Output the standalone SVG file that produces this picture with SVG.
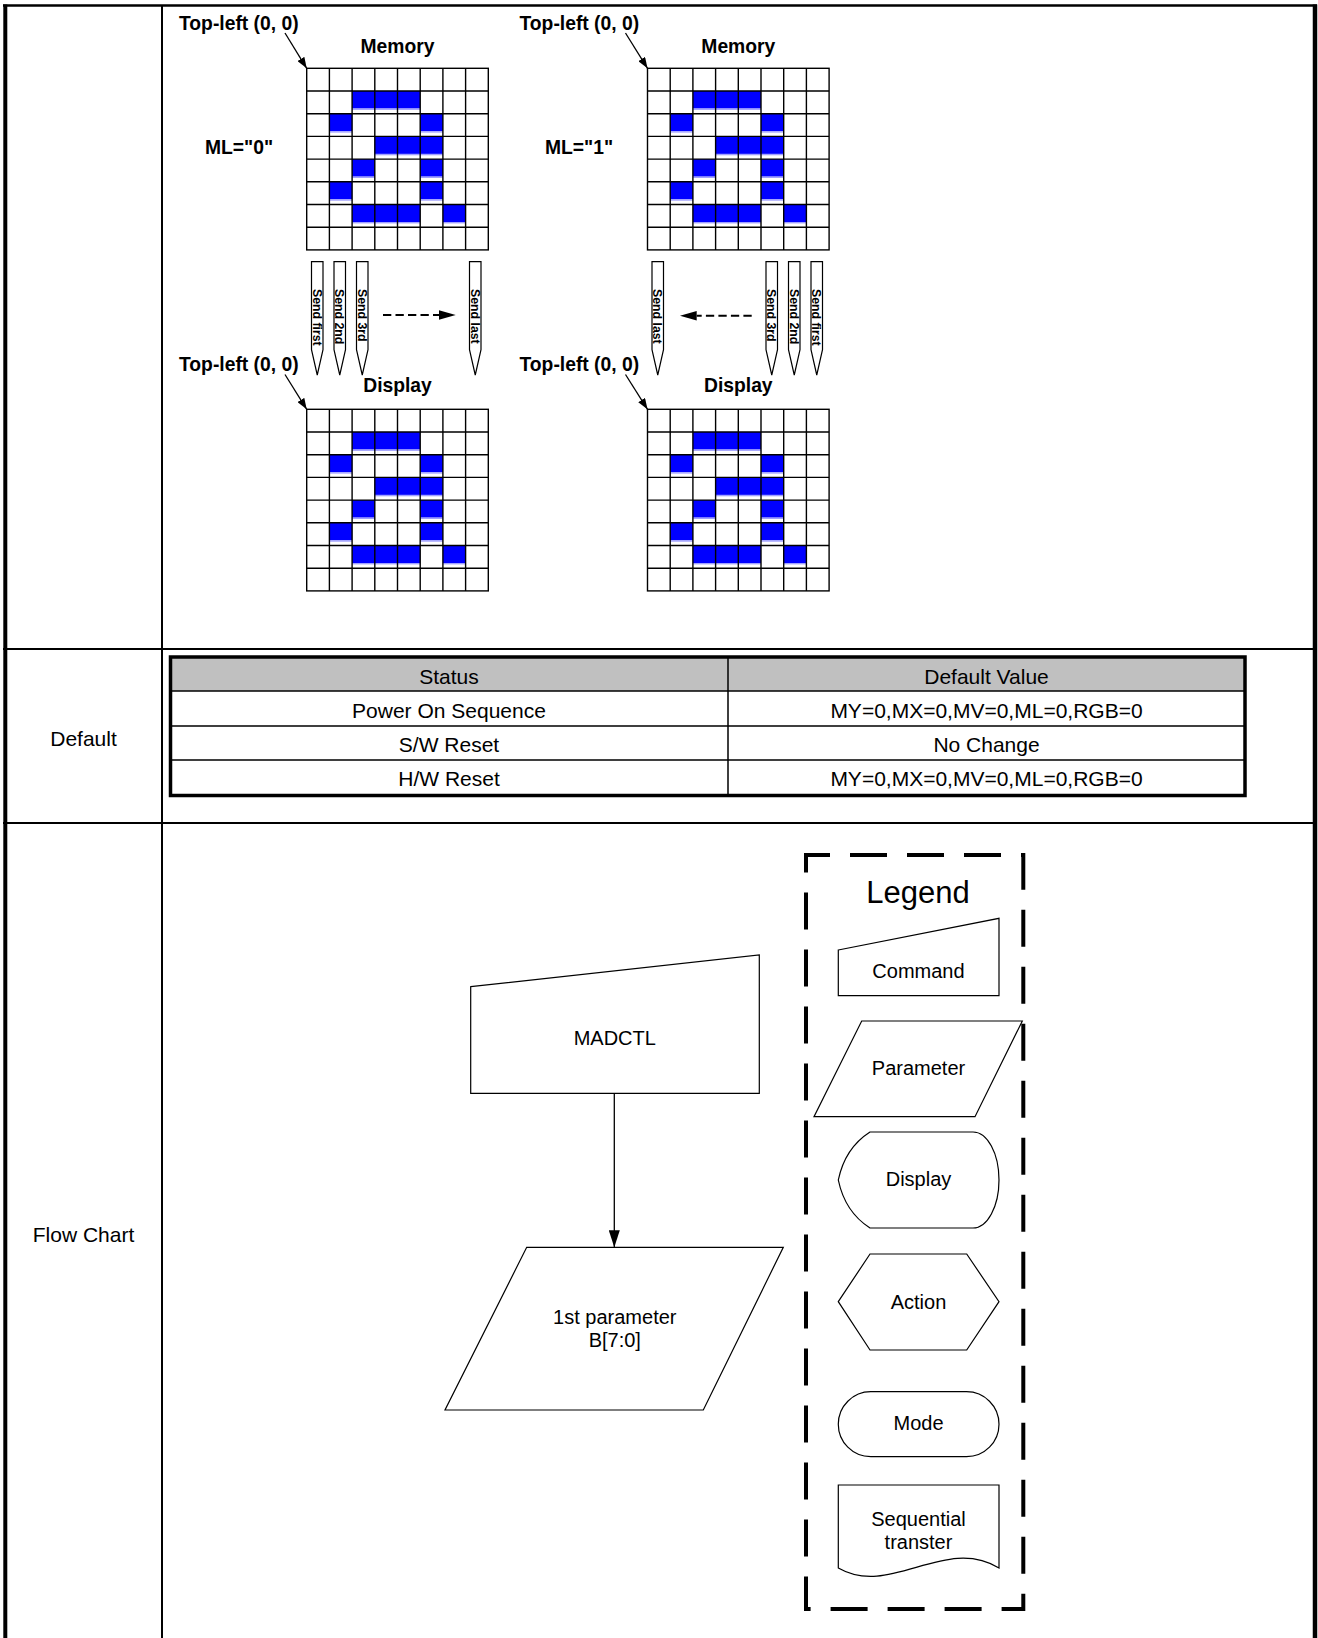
<svg xmlns="http://www.w3.org/2000/svg" width="1318" height="1638" viewBox="0 0 1318 1638">
<style>
text{font-family:"Liberation Sans",Arial,Helvetica,sans-serif;fill:#000}
.b{font-weight:bold;font-size:19.3px}
.bm{font-weight:bold;font-size:19.3px;text-anchor:middle}
.t{font-size:21px;text-anchor:middle}
.l{font-size:20px;text-anchor:middle}
.p{font-weight:bold;font-size:12.3px}
.shape{fill:#fff;stroke:#000;stroke-width:1.2}
.gl{fill:none;stroke:#000;stroke-width:1.4}
.blue{fill:#0000FF}
.lb{fill:#a0a0ff}
.frame{fill:none;stroke:#000}
.thin{fill:none;stroke:#000;stroke-width:1.3}
</style>
<defs>
<marker id="ah" viewBox="0 0 10 10" refX="10" refY="5" markerWidth="11" markerHeight="8" orient="auto" markerUnits="userSpaceOnUse" preserveAspectRatio="none"><path d="M0 0L10 5L0 10Z" fill="#000"/></marker>
<marker id="ah2" viewBox="0 0 10 10" refX="10" refY="5" markerWidth="17" markerHeight="11" orient="auto" markerUnits="userSpaceOnUse" preserveAspectRatio="none"><path d="M0 0L10 5L0 10Z" fill="#000"/></marker>
<g id="grid">
<rect class="blue" x="45.4" y="22.7" width="68.1" height="17.5"/>
<rect class="blue" x="22.7" y="45.4" width="22.7" height="17.5"/>
<rect class="blue" x="113.5" y="45.4" width="22.7" height="17.5"/>
<rect class="blue" x="68.1" y="68.1" width="68.1" height="17.5"/>
<rect class="blue" x="45.4" y="90.8" width="22.7" height="17.5"/>
<rect class="blue" x="113.5" y="90.8" width="22.7" height="17.5"/>
<rect class="blue" x="22.7" y="113.5" width="22.7" height="17.5"/>
<rect class="blue" x="113.5" y="113.5" width="22.7" height="17.5"/>
<rect class="blue" x="45.4" y="136.2" width="68.1" height="17.5"/>
<rect class="blue" x="136.2" y="136.2" width="22.7" height="17.5"/>
<rect class="lb" x="45.4" y="40.2" width="68.1" height="1.4"/>
<rect class="lb" x="22.7" y="62.9" width="22.7" height="1.4"/>
<rect class="lb" x="113.5" y="62.9" width="22.7" height="1.4"/>
<rect class="lb" x="68.1" y="85.6" width="68.1" height="1.4"/>
<rect class="lb" x="45.4" y="108.3" width="22.7" height="1.4"/>
<rect class="lb" x="113.5" y="108.3" width="22.7" height="1.4"/>
<rect class="lb" x="22.7" y="131" width="22.7" height="1.4"/>
<rect class="lb" x="113.5" y="131" width="22.7" height="1.4"/>
<rect class="lb" x="45.4" y="153.7" width="68.1" height="1.4"/>
<rect class="lb" x="136.2" y="153.7" width="22.7" height="1.4"/>
<rect class="gl" x="0" y="0" width="181.6" height="181.6"/>
<path class="gl" d="M22.7 0V181.6M45.4 0V181.6M68.1 0V181.6M90.8 0V181.6M113.5 0V181.6M136.2 0V181.6M158.9 0V181.6M0 22.7H181.6M0 45.4H181.6M0 68.1H181.6M0 90.8H181.6M0 113.5H181.6M0 136.2H181.6M0 158.9H181.6"/>
</g>
<path id="pencil" class="shape" d="M0 0H11.5V88L5.75 113.3L0 88Z"/>
</defs>
<rect width="1318" height="1638" fill="#fff"/>

<g id="frame">
<path class="frame" stroke-width="2.5" d="M3 5.5H1317"/>
<path class="frame" stroke-width="4" d="M5.3 4.5V1638"/>
<path class="frame" stroke-width="4.5" d="M1315 4.5V1638"/>
<path class="frame" stroke-width="2" d="M162 5V1638"/>
<path class="frame" stroke-width="2" d="M3 649H1317M3 823H1317"/>
<text class="t" x="83.5" y="746">Default</text>
<text class="t" x="83.5" y="1242">Flow Chart</text>
</g>

<g id="memory-ml0">
<use href="#grid" transform="translate(306.7,68.3)"/>
<text class="b" x="179" y="29.5">Top-left (0, 0)</text>
<text class="bm" x="397.5" y="52.5">Memory</text>
<text class="b" x="205" y="153.5">ML=&quot;0&quot;</text>
</g>
<g id="memory-ml1">
<use href="#grid" transform="translate(647.5,68.3)"/>
<text class="b" x="519.5" y="29.5">Top-left (0, 0)</text>
<text class="bm" x="738.3" y="52.5">Memory</text>
<text class="b" x="545" y="153.5">ML=&quot;1&quot;</text>
</g>
<g id="display-ml0">
<use href="#grid" transform="translate(306.7,409.3)"/>
<text class="b" x="179" y="370.5">Top-left (0, 0)</text>
<text class="bm" x="397.5" y="391.5">Display</text>
</g>
<g id="display-ml1">
<use href="#grid" transform="translate(647.5,409.3)"/>
<text class="b" x="519.5" y="370.5">Top-left (0, 0)</text>
<text class="bm" x="738.3" y="391.5">Display</text>
</g>

<g id="send-ml0">
<use href="#pencil" x="311.5" y="261.7"/>
<use href="#pencil" x="334" y="261.7"/>
<use href="#pencil" x="356.5" y="261.7"/>
<use href="#pencil" x="469.5" y="261.7"/>
<text class="p" transform="translate(312.8,289) rotate(90)">Send first</text>
<text class="p" transform="translate(335.3,289) rotate(90)">Send 2nd</text>
<text class="p" transform="translate(357.8,289) rotate(90)">Send 3rd</text>
<text class="p" transform="translate(470.8,289) rotate(90)">Send last</text>
</g>
<g id="send-ml1">
<use href="#pencil" x="652" y="261.7"/>
<use href="#pencil" x="766" y="261.7"/>
<use href="#pencil" x="788.5" y="261.7"/>
<use href="#pencil" x="811" y="261.7"/>
<text class="p" transform="translate(653.3,289) rotate(90)">Send last</text>
<text class="p" transform="translate(767.3,289) rotate(90)">Send 3rd</text>
<text class="p" transform="translate(789.8,289) rotate(90)">Send 2nd</text>
<text class="p" transform="translate(812.3,289) rotate(90)">Send first</text>
</g>

<g id="default-table">
<rect x="170.5" y="657" width="1074.5" height="34" fill="#C0C0C0"/>
<path class="frame" stroke-width="1.5" d="M170.5 691H1245M170.5 726H1245M170.5 760H1245M728 657V795.5"/>
<rect x="170.5" y="657" width="1074.5" height="138.5" fill="none" stroke="#000" stroke-width="3.5"/>
<text class="t" x="449" y="684">Status</text>
<text class="t" x="986.5" y="684">Default Value</text>
<text class="t" x="449" y="717.5">Power On Sequence</text>
<text class="t" x="986.5" y="717.5">MY=0,MX=0,MV=0,ML=0,RGB=0</text>
<text class="t" x="449" y="751.5">S/W Reset</text>
<text class="t" x="986.5" y="751.5">No Change</text>
<text class="t" x="449" y="785.5">H/W Reset</text>
<text class="t" x="986.5" y="785.5">MY=0,MX=0,MV=0,ML=0,RGB=0</text>
</g>

<g id="madctl">
<polygon class="shape" points="470.7,986.7 759.3,955 759.3,1093.3 470.7,1093.3"/>
<text class="l" x="614.8" y="1045">MADCTL</text>
</g>
<g id="param1">
<polygon class="shape" points="526.7,1247.3 783.3,1247.3 703.3,1410 445,1410"/>
<text class="l" x="614.8" y="1324">1st parameter</text>
<text class="l" x="614.8" y="1347">B[7:0]</text>
</g>

<g id="legend">
<path d="M806 855H1023.3V1609H806Z" fill="none" stroke="#000" stroke-width="4" stroke-dasharray="37 20" stroke-dashoffset="13"/>
<text x="918" y="903" font-size="31" text-anchor="middle">Legend</text>
<polygon class="shape" points="838.3,950 999,918.3 999,995.7 838.3,995.7"/>
<text class="l" x="918.5" y="978">Command</text>
<polygon class="shape" points="861.7,1021 1022.3,1021 975,1116.7 814,1116.7"/>
<text class="l" x="918.5" y="1075">Parameter</text>
<path class="shape" d="M870 1132H973A26 48 0 0 1 973 1228H870Q845 1212 838.3 1180Q845 1148 870 1132Z"/>
<text class="l" x="918.5" y="1186">Display</text>
<polygon class="shape" points="838.3,1301.7 870,1254 966.7,1254 999,1301.7 966.7,1350 870,1350"/>
<text class="l" x="918.5" y="1308.5">Action</text>
<rect class="shape" x="838.3" y="1391.7" width="160.7" height="65" rx="32.5"/>
<text class="l" x="918.5" y="1429.5">Mode</text>
<path class="shape" d="M838.3 1485H999V1568C945 1535 890 1598 838.3 1568Z"/>
<text class="l" x="918.5" y="1526">Sequential</text>
<text class="l" x="918.5" y="1549">transter</text>
</g>

<g id="connectors">
<line class="thin" x1="285" y1="33" x2="306.7" y2="68.3" marker-end="url(#ah)"/>
<line class="thin" x1="625.5" y1="33" x2="647.5" y2="68.3" marker-end="url(#ah)"/>
<line class="thin" x1="285" y1="374.5" x2="306.7" y2="409.3" marker-end="url(#ah)"/>
<line class="thin" x1="625.5" y1="374.5" x2="647.5" y2="409.3" marker-end="url(#ah)"/>
<line x1="383" y1="315" x2="440" y2="315" stroke="#000" stroke-width="2" stroke-dasharray="8.3 4.2"/>
<polygon points="439,310.3 455.7,315 439,319.7" fill="#000"/>
<line x1="751.7" y1="315.7" x2="696.7" y2="315.7" stroke="#000" stroke-width="2" stroke-dasharray="8.3 4.2"/>
<polygon points="696.7,311 680,315.7 696.7,320.4" fill="#000"/>
<line class="thin" x1="614.3" y1="1093.3" x2="614.3" y2="1247.3" marker-end="url(#ah2)"/>
</g>
</svg>
